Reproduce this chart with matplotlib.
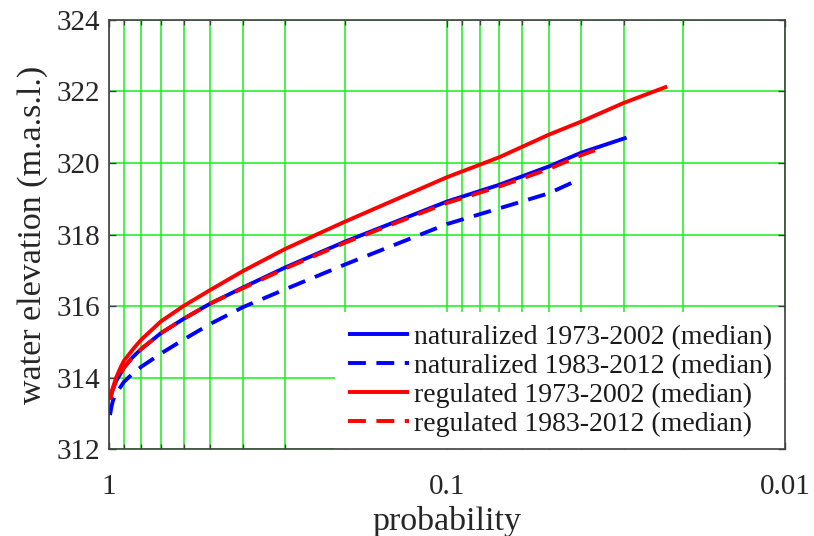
import matplotlib
matplotlib.use("Agg")
import matplotlib.pyplot as plt
from matplotlib.ticker import FixedLocator, NullFormatter

# ---------------- data ----------------
p_nat_7302 = [0.99, 0.975, 0.95, 0.92, 0.9, 0.85, 0.8, 0.7, 0.6, 0.5, 0.4, 0.3, 0.2, 0.1, 0.07, 0.05, 0.04, 0.0294]
v_nat_7302 = [313.40, 313.62, 313.90, 314.12, 314.28, 314.56, 314.80, 315.24, 315.64, 316.07, 316.52, 317.08,
              317.80, 318.92, 319.39, 319.90, 320.29, 320.71]

p_nat_8312 = [0.99, 0.98, 0.97, 0.95, 0.9, 0.85, 0.8, 0.7, 0.6, 0.5, 0.4, 0.3, 0.2, 0.1, 0.07, 0.05, 0.0419]
v_nat_8312 = [312.95, 313.18, 313.36, 313.55, 313.88, 314.10, 314.30, 314.67, 315.06, 315.50, 315.97, 316.47,
              317.16, 318.29, 318.73, 319.15, 319.48]

p_reg_7302 = [0.99, 0.975, 0.95, 0.92, 0.9, 0.84, 0.8, 0.7, 0.6, 0.5, 0.4, 0.3, 0.2, 0.1, 0.07, 0.05, 0.04,
              0.03, 0.0223]
v_reg_7302 = [313.37, 313.66, 313.99, 314.29, 314.47, 314.83, 315.06, 315.57, 316.00, 316.45, 316.98, 317.60,
              318.36, 319.60, 320.16, 320.79, 321.16, 321.68, 322.14]

p_reg_8312 = [0.99, 0.975, 0.95, 0.92, 0.9, 0.85, 0.8, 0.7, 0.6, 0.5, 0.4, 0.3, 0.2, 0.1, 0.07, 0.05, 0.04, 0.0349]
v_reg_8312 = [313.40, 313.62, 313.90, 314.12, 314.28, 314.56, 314.80, 315.24, 315.64, 316.07, 316.50, 317.05,
              317.77, 318.88, 319.34, 319.83, 320.22, 320.42]

labels = ["naturalized 1973-2002 (median)", "naturalized 1983-2012 (median)",
          "regulated 1973-2002 (median)", "regulated 1983-2012 (median)"]

x_major_ticks = [1, 0.1, 0.01]
x_major_labels = ["1", "0.1", "0.01"]
y_ticks = [312, 314, 316, 318, 320, 322, 324]
# ----------------------------------------------------------------

plt.rcParams['font.family'] = ['Liberation Serif', 'DejaVu Serif']

fig = plt.figure(figsize=(8.14, 5.36), dpi=100)
ax = fig.add_axes([0.1333, 0.1623, 0.9644 - 0.1333, 0.9627 - 0.1623])

blue = (0.0, 0.0, 1.0)
red = (1.0, 0.0, 0.0)
lw = 2.8
dash = (0, (4.6, 2.7))

ax.plot(p_nat_7302, v_nat_7302, color=blue, lw=lw, ls='-', label=labels[0], solid_capstyle='butt',
        solid_joinstyle='round')
ax.plot(p_nat_8312, v_nat_8312, color=blue, lw=lw, ls=dash, label=labels[1], dash_capstyle='butt',
        dash_joinstyle='round')
ax.plot(p_reg_7302, v_reg_7302, color=red, lw=lw, ls='-', label=labels[2], solid_capstyle='butt',
        solid_joinstyle='round')
ax.plot(p_reg_8312, v_reg_8312, color=red, lw=lw, ls=dash, label=labels[3], dash_capstyle='butt',
        dash_joinstyle='round')

ax.set_xscale('log')
ax.set_xlim(1, 0.01)
ax.set_ylim(312, 324)

ax.xaxis.set_major_locator(FixedLocator(x_major_ticks))
ax.set_xticklabels(x_major_labels)
minor = [k * 0.1 for k in range(2, 10)] + [k * 0.01 for k in range(2, 10)]
ax.xaxis.set_minor_locator(FixedLocator(minor))
ax.xaxis.set_minor_formatter(NullFormatter())
ax.set_yticks(y_ticks)

grid_col = (0.1, 0.93, 0.1)
ax.grid(True, which='major', axis='both', color=grid_col, lw=1.1)
ax.grid(True, which='minor', axis='x', color=grid_col, lw=1.1)
ax.set_axisbelow(True)

axis_col = (0.25, 0.25, 0.25)
for s in ax.spines.values():
    s.set_color(axis_col)
    s.set_linewidth(1.2)
    s.set_zorder(6)

ax.tick_params(which='both', direction='in', top=True, right=True, color=axis_col,
               labelcolor=(0.15, 0.15, 0.15), labelsize=21)
ax.tick_params(which='major', length=5, width=1)
ax.tick_params(which='minor', length=3.5, width=1)
ax.tick_params(axis='x', which='both', pad=18)
ax.tick_params(axis='y', which='both', pad=6)

ax.set_xlabel("probability", fontsize=24.5, color=(0.15, 0.15, 0.15), labelpad=4)
ax.set_ylabel("water elevation (m.a.s.l.)", fontsize=24.5, color=(0.15, 0.15, 0.15), labelpad=6)

leg = ax.legend(loc='lower right', bbox_to_anchor=(1, 0), borderaxespad=0,
                frameon=True, fancybox=False, facecolor='white', edgecolor='white',
                framealpha=1, handlelength=2.2, handletextpad=0.2, labelspacing=0.12,
                borderpad=0.45, prop={'family': 'Liberation Serif', 'size': 20})
leg.get_frame().set_linewidth(0)
leg.set_zorder(5)
for t in leg.get_texts():
    t.set_color((0.1, 0.1, 0.1))

fig.savefig("out.png", dpi=100)
